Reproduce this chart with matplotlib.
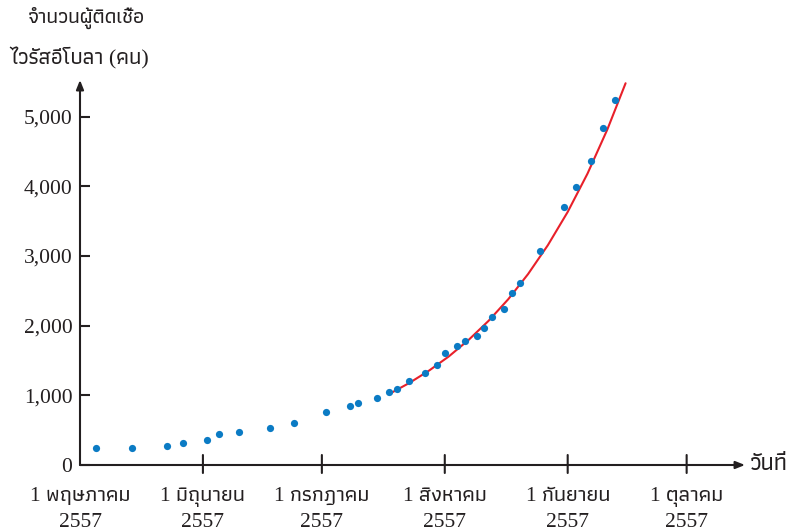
import matplotlib
matplotlib.use("Agg")
import matplotlib.pyplot as plt

# ---- data ----
month_top = ["1 พฤษภาคม", "1 มิถุนายน", "1 กรกฎาคม",
             "1 สิงหาคม", "1 กันยายน", "1 ตุลาคม"]
month_year = ["2557", "2557", "2557", "2557", "2557", "2557"]
month_days = [0, 31, 61, 92, 123, 153]   # days since 1 May 2557

case_days = [4, 13, 22, 26, 32, 35, 40, 48, 54, 62, 68, 70, 75, 78, 80, 83, 87,
             90, 92, 95, 97, 100, 102, 104, 107, 109, 111, 116, 122, 125, 129,
             132, 135]
case_counts = [244, 244, 268, 311, 354, 441, 474, 527, 598, 756, 842, 885, 961,
               1048, 1095, 1205, 1325, 1439, 1603, 1708, 1784, 1847, 1970, 2128,
               2234, 2468, 2612, 3067, 3702, 3989, 4362, 4836, 5233]

trend_days = [78.3, 83, 88, 93, 98, 103, 108, 113, 118, 123, 128, 133, 137.6]
trend_counts = [1029, 1175, 1353, 1557, 1794, 2066, 2378, 2739, 3154, 3631,
                4181, 4814, 5477]

y_ticks = [0, 1000, 2000, 3000, 4000, 5000]
y_labels = ["0", "1,000", "2,000", "3,000", "4,000", "5,000"]

y_title = ["จำนวนผู้ติดเชื้อ", "ไวรัสอีโบลา (คน)"]
x_title = "วันที่"

thai_family = ["Liberation Serif", "Athiti", "DejaVu Sans"]
thai_only = ["Athiti", "DejaVu Sans"]
num_family = ["Liberation Serif", "DejaVu Serif"]
axis_col = "#231f20"
thai_weight = "medium"

fig = plt.figure(figsize=(7.92, 5.31), dpi=100)
W, H = 792, 531
x0, y0, x1, y1 = 80, 465, 745, 80
px_per_day = 3.965
px_per_case = 0.0697
ax = fig.add_axes([x0 / W, 1 - y0 / H, (x1 - x0) / W, (y0 - y1) / H])
ax.set_xlim(0, (x1 - x0) / px_per_day)
ax.set_ylim(0, (y0 - y1) / px_per_case)
for s in ax.spines.values():
    s.set_visible(False)

arrow = dict(arrowstyle="-|>,head_length=0.55,head_width=0.22",
             color=axis_col, lw=1.5, shrinkA=0, shrinkB=0)
ax.annotate("", xy=(1, 0), xytext=(0, 0), xycoords="axes fraction",
            arrowprops=arrow, annotation_clip=False)
ax.annotate("", xy=(0, 1), xytext=(0, 0), xycoords="axes fraction",
            arrowprops=arrow, annotation_clip=False)

ax.plot(trend_days, trend_counts, color="#e8202a", lw=1.5, zorder=2,
        solid_capstyle="round")
ax.plot(case_days, case_counts, "o", color="#0b7bc4", ms=5.2, mew=0, zorder=3)

ax.set_yticks(y_ticks)
ax.set_yticklabels(y_labels, family=num_family, fontsize=15.5, color=axis_col)
ax.tick_params(axis="y", direction="in", length=7, width=1.5, color=axis_col,
               pad=5.5)
ax.set_xticks([])

tick_line = dict(arrowstyle="-", color=axis_col, lw=1.5, shrinkA=0, shrinkB=0)
for d in month_days[1:]:
    ax.annotate("", xy=(d, 0), xycoords="data", xytext=(0, 10),
                textcoords="offset pixels", arrowprops=tick_line,
                annotation_clip=False)
    ax.annotate("", xy=(d, 0), xycoords="data", xytext=(0, -8),
                textcoords="offset pixels", arrowprops=tick_line,
                annotation_clip=False)

for d, top, yr in zip(month_days, month_top, month_year):
    ax.text(d, -(501 - y0) / px_per_case, top, ha="center", va="baseline",
            fontsize=15.5, family=thai_family, weight=thai_weight,
            color=axis_col, clip_on=False)
    ax.text(d, -(527 - y0) / px_per_case, yr, ha="center", va="baseline",
            fontsize=15.5, family=num_family, color=axis_col, clip_on=False)

fig.text(86 / W, 1 - 18 / H, y_title[0], ha="center", va="center",
         fontsize=15, family=thai_only, weight=thai_weight, color=axis_col)
fig.text(79 / W, 1 - 58 / H, y_title[1], ha="center", va="center",
         fontsize=15.8, family=thai_family, weight=thai_weight, color=axis_col)
fig.text(750 / W, 1 - 465 / H, x_title, ha="left", va="center",
         fontsize=17, family=thai_only, weight=thai_weight, color=axis_col)

fig.savefig("out.png", dpi=100)
